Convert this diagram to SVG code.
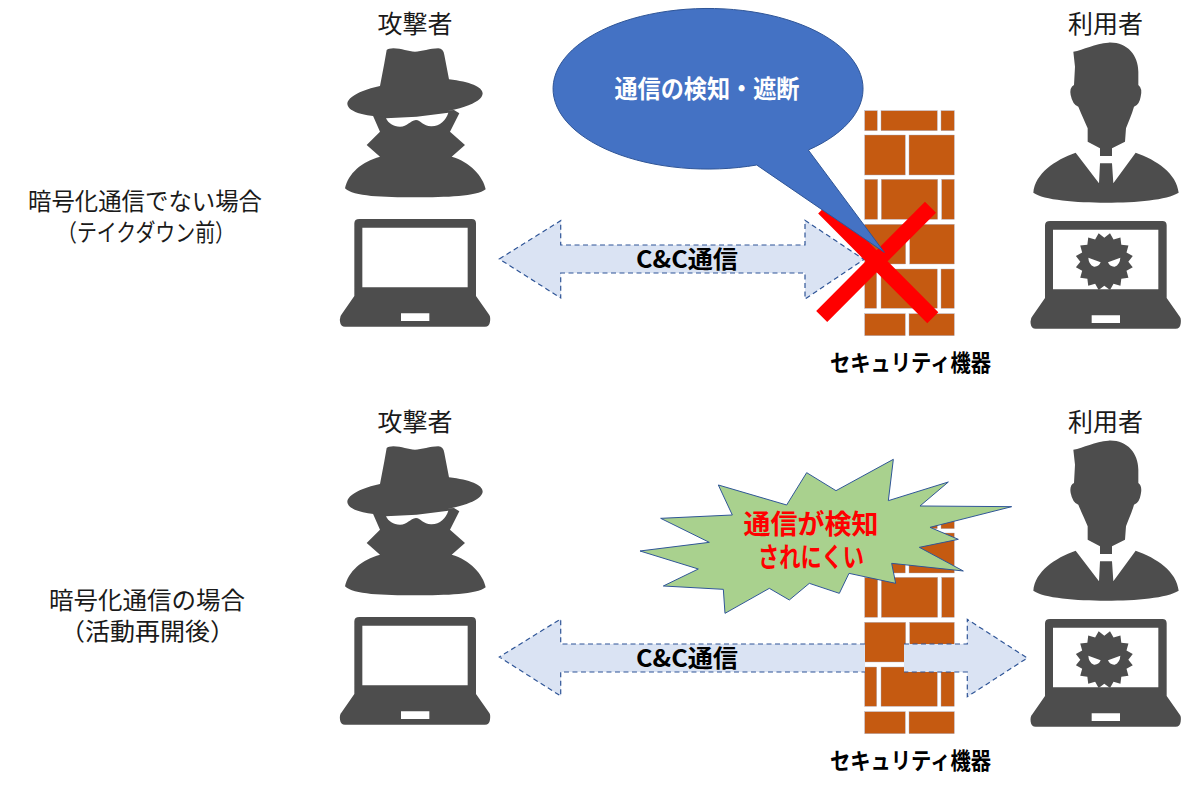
<svg xmlns="http://www.w3.org/2000/svg" width="1190" height="790" viewBox="0 0 1190 790">
<style>
text{font-family:"Noto Sans CJK JP","Noto Sans",sans-serif;text-anchor:middle}
.lbl{font-size:24px;fill:#1a1a1a}
.who{font-size:25px;fill:#1a1a1a}
.b{font-weight:700;fill:#000}
.dev{font-size:23px}
.cc{font-size:24px}
.dark{fill:#4d4d4d}
.wh{fill:#fff}
.brick{fill:#c55a11;stroke:#a8b0c8;stroke-width:.4}
.arrow{fill:#dae3f3;stroke:#2f5597;stroke-width:1.2;stroke-dasharray:5 3.5}
.x{stroke:#f00;stroke-width:15.6;fill:none}
.burst-t{font-size:27px;font-weight:700;fill:#f00}
</style>
<defs>
<g id="spy">
<path class="dark" d="M128,345L372,330L388,340L360,395L405,435L365,470C420,485 460,530 467,568C440,590 350,592 255,592C160,592 70,590 45,565C55,520 95,485 150,470L110,435L150,395Z"/>
<path class="wh" d="M168,355C175,370 190,380 210,380C232,380 240,362 258,360C272,360 280,380 305,379C330,378 348,360 355,338L260,350Z"/>
<path class="dark" d="M170,150Q175,145 190,145C215,145 235,155 255,155C275,155 300,145 325,145Q340,145 343,165L357,238C420,245 458,262 458,280C458,310 380,335 255,348C150,358 55,345 52,312C52,290 100,268 150,258L163,190Z"/>
</g>
<path id="laptop" class="dark" fill-rule="evenodd" d="M88,657H425Q438,657 438,670V888L478,945Q482,950 480,965Q478,980 465,980H45Q32,980 30,965Q28,950 35,943L73,888V670Q73,657 88,657ZM97,683V862H413V683ZM213,940V963H298V940Z"/>
<g id="user">
<path class="dark" d="M160,155C190,150 225,130 265,128C320,125 355,165 355,215L355,255Q368,265 362,290Q358,315 342,320C335,345 325,365 318,385L315,425L276,445V468H240V445L203,425V385C195,365 185,345 175,320Q158,315 152,285Q148,262 162,255L165,200Z"/>
<path class="dark" d="M167,458L237,550L240,490H276L280,550L347,458C410,480 470,520 476,578C440,600 350,608 258,608C170,608 70,600 40,578C45,520 105,480 167,458Z"/>
<use href="#laptop" transform="translate(2,6)"/>
<path class="dark" d="M325,785L338.3,802L319.5,812.6L325.3,833.3L303.9,835.9L301.3,857.3L280.6,851.5L270,870.3L253,857L236,870.3L225.4,851.5L204.7,857.3L202.1,835.9L180.7,833.3L186.5,812.6L167.7,802L181,785L167.7,768L186.5,757.4L180.7,736.7L202.1,734.1L204.7,712.7L225.4,718.5L236,699.7L253,713L270,699.7L280.6,718.5L301.3,712.7L303.9,734.1L325.3,736.7L319.5,757.4L338.3,768Z"/>
<path class="wh" d="M205,773L242,787Q236,801 222,800Q206,794 205,773ZM301,773L264,787Q270,801 284,800Q300,794 301,773Z"/>
</g>
<g id="wall">
<rect class="brick" x="864.7" y="110.7" width="12.6" height="20"/><rect class="brick" x="881" y="110.7" width="56.3" height="20"/><rect class="brick" x="941" y="110.7" width="13.3" height="20"/>
<rect class="brick" x="864.7" y="135" width="40.6" height="40"/><rect class="brick" x="909" y="135" width="45.3" height="40"/>
<rect class="brick" x="864.7" y="179.3" width="13" height="40"/><rect class="brick" x="881.3" y="179.3" width="56.4" height="40"/><rect class="brick" x="941.7" y="179.3" width="12.6" height="40"/>
<rect class="brick" x="864.7" y="224.3" width="41" height="39.7"/><rect class="brick" x="909.7" y="224.3" width="44.6" height="39.7"/>
<rect class="brick" x="864.7" y="269" width="12" height="39.3"/><rect class="brick" x="881" y="269" width="56.3" height="39.3"/><rect class="brick" x="941" y="269" width="13.3" height="39.3"/>
<rect class="brick" x="864.7" y="313.7" width="40.6" height="22"/><rect class="brick" x="909" y="313.7" width="45.3" height="22"/>
</g>
</defs>
<g id="label-case1">
<text class="lbl" x="145" y="210" textLength="234" lengthAdjust="spacingAndGlyphs">暗号化通信でない場合</text>
<text class="lbl" x="146" y="241" textLength="178" lengthAdjust="spacingAndGlyphs">（テイクダウン前）</text>
</g>
<g id="label-case2">
<text class="lbl" x="147" y="609" textLength="196" lengthAdjust="spacingAndGlyphs">暗号化通信の場合</text>
<text class="lbl" x="147.5" y="640" textLength="175" lengthAdjust="spacingAndGlyphs">（活動再開後）</text>
</g>
<g id="attacker-top">
<text class="who" x="415" y="33">攻撃者</text>
<use href="#spy" transform="translate(330,0) scale(.33333)"/>
<use href="#laptop" transform="translate(330,0) scale(.33333)"/>
</g>
<g id="attacker-bottom">
<text class="who" x="415" y="431">攻撃者</text>
<use href="#spy" transform="translate(330,398) scale(.33333)"/>
<use href="#laptop" transform="translate(330,398) scale(.33333)"/>
</g>
<g id="user-top">
<text class="who" x="1105.5" y="33">利用者</text>
<use href="#user" transform="translate(1020,0) scale(.33333)"/>
</g>
<g id="user-bottom">
<text class="who" x="1105.5" y="431">利用者</text>
<use href="#user" transform="translate(1020,398) scale(.33333)"/>
</g>
<g id="device-top">
<use href="#wall"/>
<text class="b dev" x="910.5" y="371" textLength="161" lengthAdjust="spacingAndGlyphs">セキュリティ機器</text>
</g>
<g id="device-bottom">
<use href="#wall" y="398"/>
<text class="b dev" x="910.5" y="769" textLength="161" lengthAdjust="spacingAndGlyphs">セキュリティ機器</text>
</g>
<g id="connectors">
<path class="arrow" d="M499.3,259L560.7,220.7V245H805V220.3L864,259.5L805,299V273H560.7V298Z"/>
<path class="arrow" d="M865,644H560.7V619L499.3,657L560.7,696V672H865"/>
<path class="arrow" d="M904,644H967.3V619.3L1027.3,658L967.3,696.7V672H904"/>
</g>
<g id="cc-label-top"><text class="b cc" x="687" y="268" textLength="102" lengthAdjust="spacingAndGlyphs">C&amp;C通信</text></g>
<g id="cc-label-bottom"><text class="b cc" x="687" y="667" textLength="102" lengthAdjust="spacingAndGlyphs">C&amp;C通信</text></g>
<g id="block-mark">
<path class="x" d="M823.7,208L932.8,317.8M930.5,207.2L821.7,316.5"/>
</g>
<g id="callout">
<path fill="#4472c4" stroke="#2f5597" stroke-width="1" d="M756.7,165A155,80.3 0 1 1 808.3,150L884.3,252.3Z"/>
<text x="707" y="98" font-size="24.5" font-weight="700" fill="#fff" textLength="185" lengthAdjust="spacingAndGlyphs">通信の検知・遮断</text>
</g>
<g id="burst">
<path fill="#a9d18e" stroke="#2f5597" stroke-width="3" transform="translate(630,450) scale(.33333)" d="M265,105L470,165L530,68L618,122L790,28L775,152L955,96L870,168L1145,170L900,232L985,268L868,292L1000,363L785,340L797,400L657,370L628,430L538,400L478,450L418,415L285,490L280,418L100,408L205,357L30,303L238,277L92,205L307,195Z"/>
<text class="burst-t" x="811" y="534" textLength="135" lengthAdjust="spacingAndGlyphs">通信が検知</text>
<text class="burst-t" x="811" y="567" textLength="106" lengthAdjust="spacingAndGlyphs">されにくい</text>
</g>
</svg>
